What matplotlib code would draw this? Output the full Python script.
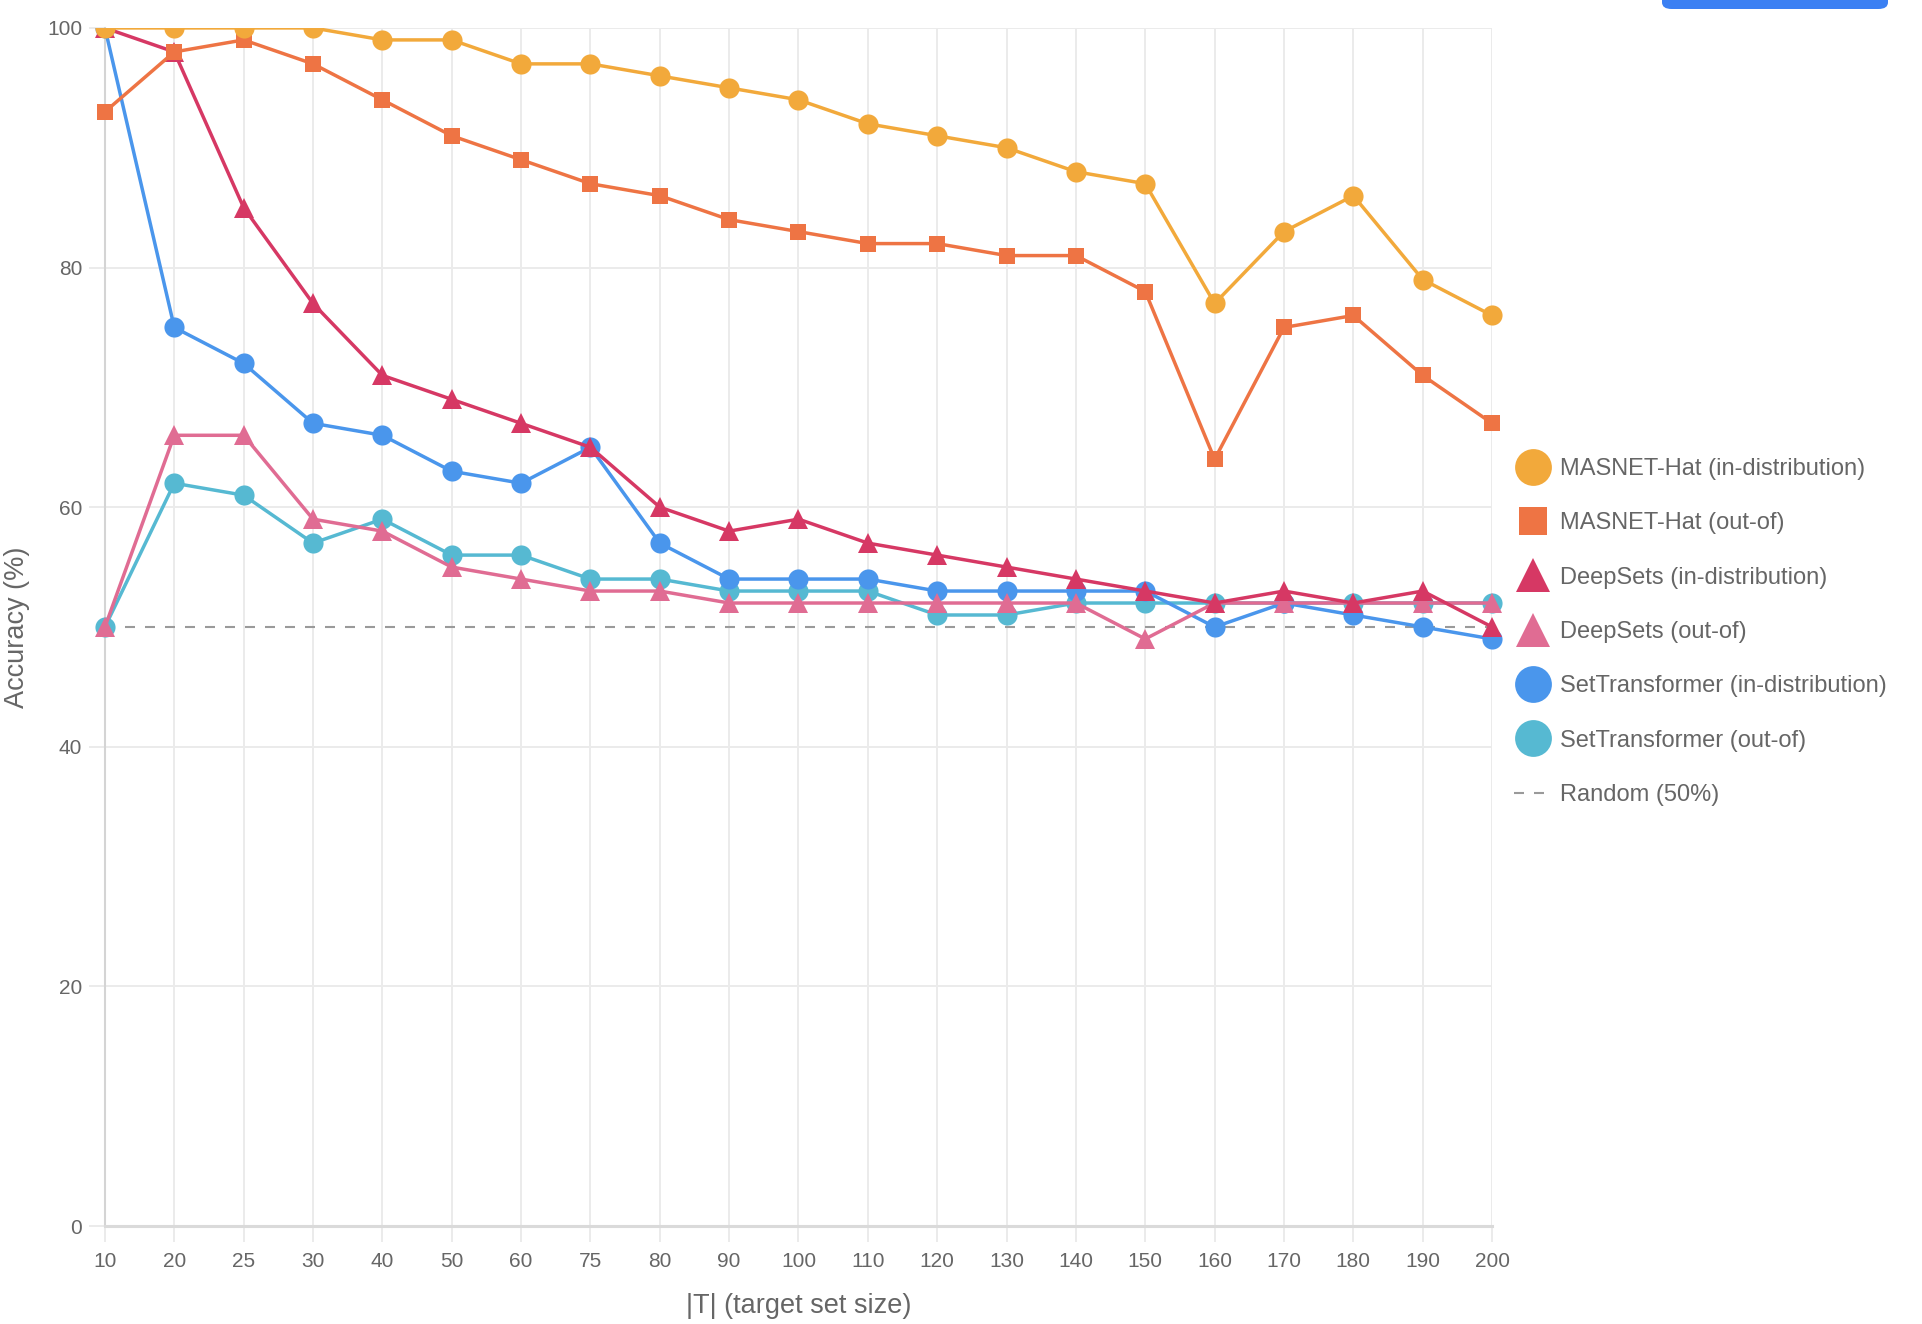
import matplotlib
matplotlib.use("Agg")
import matplotlib.pyplot as plt
from matplotlib.lines import Line2D
from matplotlib.patches import Rectangle, FancyBboxPatch

plt.rcParams["font.family"] = ["Liberation Sans", "DejaVu Sans"]

# ------------------------------------------------------------
# Data (accuracy in %)
# ------------------------------------------------------------
target_sizes = ["10", "20", "25", "30", "40", "50", "60", "75", "80", "90", "100",
                "110", "120", "130", "140", "150", "160", "170", "180", "190", "200"]

masnet_in = [100, 100, 100, 100, 99, 99, 97, 97, 96, 95, 94,
             92, 91, 90, 88, 87, 77, 83, 86, 79, 76]
masnet_out = [93, 98, 99, 97, 94, 91, 89, 87, 86, 84, 83,
              82, 82, 81, 81, 78, 64, 75, 76, 71, 67]
deepsets_in = [100, 98, 85, 77, 71, 69, 67, 65, 60, 58, 59,
               57, 56, 55, 54, 53, 52, 53, 52, 53, 50]
deepsets_out = [50, 66, 66, 59, 58, 55, 54, 53, 53, 52, 52,
                52, 52, 52, 52, 49, 52, 52, 52, 52, 52]
settf_in = [100, 75, 72, 67, 66, 63, 62, 65, 57, 54, 54,
            54, 53, 53, 53, 53, 50, 52, 51, 50, 49]
settf_out = [50, 62, 61, 57, 59, 56, 56, 54, 54, 53, 53,
             53, 51, 51, 52, 52, 52, 52, 52, 52, 52]
random_level = 50

series_labels = ["MASNET-Hat (in-distribution)", "MASNET-Hat (out-of)",
                 "DeepSets (in-distribution)", "DeepSets (out-of)",
                 "SetTransformer (in-distribution)", "SetTransformer (out-of)"]
series_values = [masnet_in, masnet_out, deepsets_in, deepsets_out, settf_in, settf_out]
series_colors = ["#F2A93B", "#EE7444", "#D63864", "#E06C93", "#4A96EC", "#56B9D2"]
series_markers = ["o", "s", "^", "^", "o", "o"]
marker_sizes = {"o": 14.5, "s": 12, "^": 15}
legend_sizes = {"o": 26.5, "s": 20, "^": 25}

TEXT = "#666666"
GRID = "#ebebeb"

fig = plt.figure(figsize=(19.22, 13.24), dpi=100)
ax = fig.add_axes([0.0546, 0.0740, 0.7217, 0.9049])

x = list(range(len(target_sizes)))

# clip vertically to the chart area but let markers spill sideways
clip = Rectangle((-0.05, -0.05), 1.1, 1.05, transform=ax.transAxes,
                 facecolor="none", edgecolor="none")

n = len(series_values)
for i, (vals, lab, col, mk) in enumerate(zip(series_values, series_labels,
                                               series_colors, series_markers)):
    line, = ax.plot(x, vals, color=col, linewidth=2.5, marker=mk,
                    markersize=marker_sizes[mk], markeredgewidth=0,
                    zorder=10 + (n - i), label=lab)
    line.set_clip_path(clip)

ax.plot([x[0], x[-1]], [random_level, random_level], color="#9a9a9a",
        linewidth=1.5, dashes=(4.8, 4.8), zorder=5)

ax.set_xlim(0, len(target_sizes) - 1)
ax.set_ylim(0, 100)
ax.set_xticks(x)
ax.set_xticklabels(target_sizes)
ax.set_yticks(range(0, 101, 20))

ax.grid(True, color=GRID, linewidth=1.4)
ax.set_axisbelow(True)
ax.tick_params(axis="both", length=11.5, width=1.4, color=GRID,
               labelcolor=TEXT, labelsize=15)
ax.tick_params(axis="x", pad=7)
ax.tick_params(axis="y", pad=5)

for side in ["top", "right"]:
    ax.spines[side].set_visible(False)
ax.spines["left"].set_color("#d4d4d4")
ax.spines["left"].set_linewidth(1.5)
ax.spines["bottom"].set_color("#dadada")
ax.spines["bottom"].set_linewidth(2.2)

ax.set_xlabel("|T| (target set size)", fontsize=19.5, color=TEXT, labelpad=16)
ax.set_ylabel("Accuracy (%)", fontsize=19.5, color=TEXT, labelpad=12)

# legend with big point-style markers
handles = []
for lab, col, mk in zip(series_labels, series_colors, series_markers):
    handles.append(Line2D([], [], color=col, linestyle="none", marker=mk,
                          markersize=legend_sizes[mk], markeredgewidth=0, label=lab))
handles.append(Line2D([], [], color="#9a9a9a", linewidth=1.5, dashes=(4.8, 4.8),
                      label="Random (50%)"))

leg = fig.legend(handles=handles, loc="upper left",
                 bbox_to_anchor=(1514 / 1922, 1 - 458 / 1324),
                 frameon=False, fontsize=17, handlelength=1.6, handletextpad=0.35,
                 labelspacing=1.37, borderpad=0, borderaxespad=0)
for t in leg.get_texts():
    t.set_color(TEXT)

# partially visible button at the top edge
btn = FancyBboxPatch((1662 / 1922, 1 - 9 / 1324), 226 / 1922, 20 / 1324,
                     boxstyle="round,pad=0,rounding_size=0.005",
                     transform=fig.transFigure, facecolor="#3B80F3",
                     edgecolor="none", clip_on=True)
fig.patches.append(btn)

fig.savefig("out.png", dpi=100)
